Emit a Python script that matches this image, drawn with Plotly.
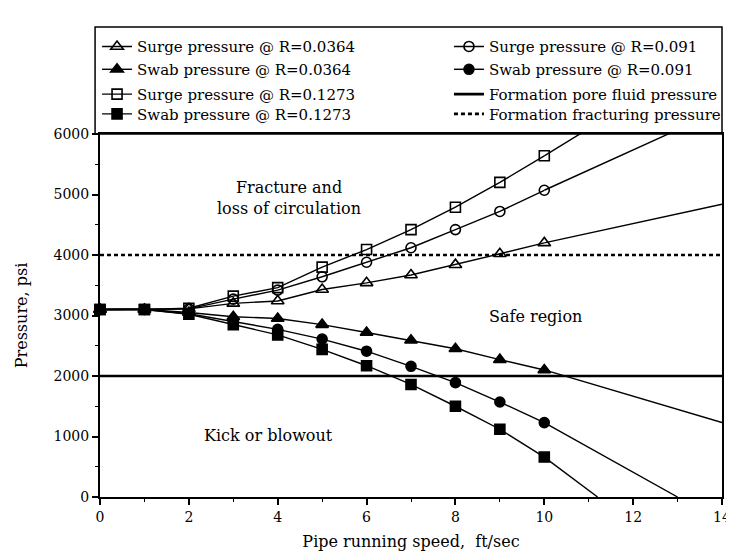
import plotly.graph_objects as go

# ---- data ----
speed = [0, 1, 2, 3, 4, 5, 6, 7, 8, 9, 10]
surge_0364 = [3100, 3100, 3110, 3200, 3240, 3430, 3540, 3670, 3840, 4020, 4200]
swab_0364 = [3100, 3100, 3050, 2980, 2950, 2850, 2720, 2590, 2450, 2270, 2100]
surge_091 = [3100, 3100, 3110, 3270, 3420, 3640, 3880, 4120, 4420, 4720, 5070]
swab_091 = [3100, 3100, 3030, 2900, 2770, 2610, 2410, 2160, 1890, 1570, 1230]
surge_1273 = [3100, 3100, 3120, 3320, 3460, 3800, 4090, 4420, 4790, 5200, 5640]
swab_1273 = [3100, 3100, 3020, 2850, 2680, 2440, 2170, 1860, 1500, 1120, 660]

# continuation of each curve beyond the last computed point
ext_surge_0364_x, ext_surge_0364_y = [10, 14], [4200, 4840]
ext_swab_0364_x, ext_swab_0364_y = [10, 14], [2100, 1230]
ext_surge_091_x, ext_surge_091_y = [10, 13], [5070, 6070]
ext_swab_091_x, ext_swab_091_y = [10, 13], [1230, 0]
ext_surge_1273_x, ext_surge_1273_y = [10, 11], [5640, 6090]
ext_swab_1273_x, ext_swab_1273_y = [10, 11.2], [660, 0]

pore_x, pore_y = [0, 14], [2000, 2000]
frac_x, frac_y = [0, 14], [4000, 4000]

x_ticks = [0, 2, 4, 6, 8, 10, 12, 14]
y_ticks = [0, 1000, 2000, 3000, 4000, 5000, 6000]

FONT = "DejaVu Serif, Liberation Serif, serif"
LW = 1.4

fig = go.Figure()

# (name, values, ext x, ext y, symbol, size, legend slot)
series = [
    ("Surge pressure @ R=0.0364", surge_0364, ext_surge_0364_x, ext_surge_0364_y, "triangle-up-open", 11, "legend"),
    ("Swab pressure @ R=0.0364", swab_0364, ext_swab_0364_x, ext_swab_0364_y, "triangle-up", 11, "legend2"),
    ("Surge pressure @ R=0.1273", surge_1273, ext_surge_1273_x, ext_surge_1273_y, "square-open", 10, "legend3"),
    ("Swab pressure @ R=0.1273", swab_1273, ext_swab_1273_x, ext_swab_1273_y, "square", 10, "legend4"),
    ("Surge pressure @ R=0.091", surge_091, ext_surge_091_x, ext_surge_091_y, "circle-open", 10, "legend5"),
    ("Swab pressure @ R=0.091", swab_091, ext_swab_091_x, ext_swab_091_y, "circle", 10, "legend6"),
]

for name, ys, ex, ey, sym, sz, leg in series:
    fig.add_trace(go.Scatter(
        x=ex, y=ey, mode="lines", line=dict(color="black", width=LW),
        showlegend=False, hoverinfo="skip"))
    fig.add_trace(go.Scatter(
        x=speed, y=ys, mode="lines+markers", name=name, legend=leg,
        line=dict(color="black", width=LW),
        marker=dict(symbol=sym, size=sz, color="black",
                    line=dict(color="black", width=1.6)),
        cliponaxis=False))

fig.add_trace(go.Scatter(
    x=pore_x, y=pore_y, mode="lines", name="Formation pore fluid pressure",
    legend="legend7", line=dict(color="black", width=2.6)))
fig.add_trace(go.Scatter(
    x=frac_x, y=frac_y, mode="lines", name="Formation fracturing pressure",
    legend="legend8", line=dict(color="black", width=2.6, dash="4px,3px")))


def py(px):
    # pixel row -> paper coordinate of the plot area (y=1 at px 126, y=0 at px 492)
    return (492 - px) / 366.0


def px_x(px):
    # pixel column -> paper coordinate (x=0 at px 92, x=1 at px 723)
    return (px - 92) / 631.0


def slot(xpx, ypx):
    return dict(
        font=dict(family=FONT, size=15, color="black"),
        bgcolor="rgba(0,0,0,0)", borderwidth=0,
        itemwidth=30, orientation="v",
        x=px_x(xpx), xanchor="left", y=py(ypx), yanchor="middle",
    )


rows = [38, 61, 86, 106]
col1, col2 = 89, 446

fig.update_layout(
    width=734, height=551,
    margin=dict(l=92, r=11, t=126, b=59),
    paper_bgcolor="white", plot_bgcolor="white",
    font=dict(family=FONT, size=14, color="black"),
    showlegend=True,
    legend=slot(col1, rows[0]),
    legend2=slot(col1, rows[1]),
    legend3=slot(col1, rows[2]),
    legend4=slot(col1, rows[3]),
    legend5=slot(col2, rows[0]),
    legend6=slot(col2, rows[1]),
    legend7=slot(col2, rows[2]),
    legend8=slot(col2, rows[3]),
    xaxis=dict(
        range=[0, 14], tickvals=x_ticks, showgrid=False, zeroline=False,
        showline=True, linecolor="black", linewidth=2, mirror=True,
        ticks="outside", ticklen=6, tickwidth=1.5, tickcolor="black",
        minor=dict(dtick=1, ticks="outside", ticklen=3, tickcolor="black", tickwidth=1),
        tickfont=dict(family=FONT, size=14),
        title=dict(text="Pipe running speed,  ft/sec", font=dict(family=FONT, size=16), standoff=12),
    ),
    yaxis=dict(
        range=[0, 6000], tickvals=y_ticks, showgrid=False, zeroline=False,
        showline=True, linecolor="black", linewidth=2, mirror=True,
        ticks="outside", ticklen=6, tickwidth=1.5, tickcolor="black",
        minor=dict(dtick=500, ticks="outside", ticklen=3, tickcolor="black", tickwidth=1),
        tickfont=dict(family=FONT, size=14),
        title=dict(text="Pressure, psi", font=dict(family=FONT, size=16), standoff=22),
    ),
    shapes=[dict(type="rect", xref="paper", yref="paper",
                 x0=px_x(87), x1=1.0, y0=1.0, y1=py(18),
                 line=dict(color="black", width=1.5))],
    annotations=[
        dict(x=4.25, y=4950, xref="x", yref="y", text="Fracture and<br>loss of circulation",
             showarrow=False, font=dict(family=FONT, size=16)),
        dict(x=9.8, y=2985, xref="x", yref="y", text="Safe region",
             showarrow=False, font=dict(family=FONT, size=16)),
        dict(x=3.8, y=1015, xref="x", yref="y", text="Kick or blowout",
             showarrow=False, font=dict(family=FONT, size=16)),
    ],
)

fig.write_html("out.html")
